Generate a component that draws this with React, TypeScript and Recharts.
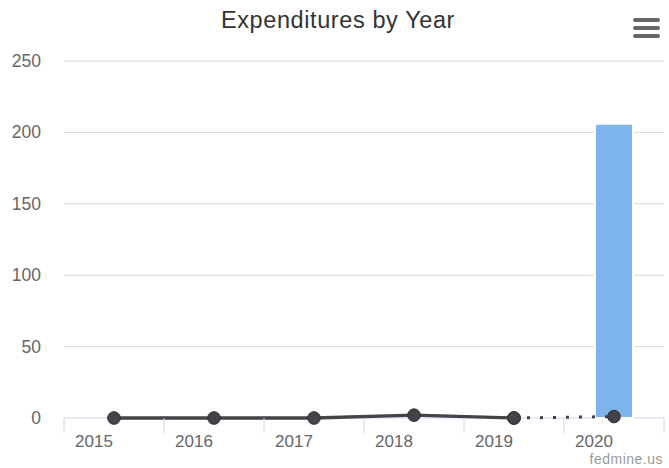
import React from 'react';
import { ComposedChart, Bar, Line, XAxis, YAxis, CartesianGrid } from 'recharts';

const years = ['2015', '2016', '2017', '2018', '2019', '2020'];
const expenditures: (number | null)[] = [null, null, null, null, null, 206];
const actualValues: (number | null)[] = [0, 0, 0, 2, 0, null];
const projectedValues: (number | null)[] = [null, null, null, null, 0, 1];
const yTicks = [0, 50, 100, 150, 200, 250];

const data = years.map((year, i) => ({
  year,
  expenditure: expenditures[i],
  actual: actualValues[i],
  projected: projectedValues[i],
}));

const FONT = '"Liberation Sans", Arial, Helvetica, sans-serif';
const HALF_BAND = 50;
const CHART_H = 468;
const XAXIS_H = 50;
const PLOT_BOTTOM = CHART_H - XAXIS_H;

const XTick = (props: any) => {
  const { x, y, payload, index } = props;
  return (
    <g>
      <line x1={x - HALF_BAND} y1={y} x2={x - HALF_BAND} y2={y + 15} stroke="#ccd6eb" strokeWidth={1} />
      {index === years.length - 1 && (
        <line x1={x + HALF_BAND} y1={y} x2={x + HALF_BAND} y2={y + 15} stroke="#ccd6eb" strokeWidth={1} />
      )}
      <text x={x - 20} y={y + 29} textAnchor="middle" fill="#666666" fontSize={17} fontFamily={FONT}>
        {payload.value}
      </text>
    </g>
  );
};

const YTick = (props: any) => {
  const { x, y, payload } = props;
  return (
    <text x={x - 23} y={y + 6} textAnchor="end" fill="#666666" fontSize={17.5} fontFamily={FONT}>
      {payload.value}
    </text>
  );
};

const GridLine = (props: any) => {
  const { x1, x2, y1, y2 } = props;
  const isBase = Math.abs(y1 - PLOT_BOTTOM) < 1.5;
  return (
    <line
      x1={x1}
      x2={x2}
      y1={y1}
      y2={y2}
      stroke={isBase ? '#ccd6eb' : '#d8d8d8'}
      strokeWidth={1}
    />
  );
};

const Dot = (props: any) => {
  const { cx, cy, value } = props;
  if (value === null || value === undefined || cx == null || cy == null) return <g />;
  return <circle cx={cx} cy={cy} r={6.3} fill="#434348" stroke="#2e2e33" strokeWidth={1} />;
};

export default function App() {
  return (
    <div style={{ position: 'absolute', left: 0, top: 0, width: 669, height: CHART_H, background: '#ffffff' }}>
      <ComposedChart
        width={669}
        height={CHART_H}
        data={data}
        margin={{ top: 61, right: 5, left: 0, bottom: 0 }}
      >
        <CartesianGrid horizontal={(p: any) => <GridLine {...p} />} vertical={false} />
        <XAxis
          dataKey="year"
          height={XAXIS_H}
          axisLine={false}
          tickLine={false}
          tickSize={0}
          tickMargin={0}
          tick={<XTick />}
          interval={0}
        />
        <YAxis
          width={64}
          domain={[0, 250]}
          ticks={yTicks}
          axisLine={false}
          tickLine={false}
          tickSize={0}
          tickMargin={0}
          tick={<YTick />}
          interval={0}
        />
        <Bar
          dataKey="expenditure"
          fill="#7cb5ec"
          stroke="#ffffff"
          strokeWidth={2}
          barSize={38}
          isAnimationActive={false}
        />
        <Line
          dataKey="projected"
          stroke="#434348"
          strokeWidth={3}
          strokeDasharray="3 10"
          dot={<Dot />}
          activeDot={false}
          connectNulls={false}
          isAnimationActive={false}
        />
        <Line
          dataKey="actual"
          stroke="#434348"
          strokeWidth={3.3}
          dot={<Dot />}
          activeDot={false}
          connectNulls={false}
          isAnimationActive={false}
        />
      </ComposedChart>
      <svg
        width={669}
        height={CHART_H}
        style={{ position: 'absolute', left: 0, top: 0, pointerEvents: 'none' }}
      >
        <text
          x={338}
          y={28}
          textAnchor="middle"
          fill="#333333"
          fontSize={23.5}
          letterSpacing={0.6}
          fontFamily={FONT}
        >
          Expenditures by Year
        </text>
        <g stroke="#666666" strokeWidth={4} strokeLinecap="round">
          <line x1={635} y1={20} x2={658} y2={20} />
          <line x1={635} y1={28} x2={658} y2={28} />
          <line x1={635} y1={36} x2={658} y2={36} />
        </g>
        <text
          x={663}
          y={464}
          textAnchor="end"
          fill="#999999"
          fontSize={14}
          letterSpacing={0.5}
          fontFamily={FONT}
        >
          fedmine.us
        </text>
      </svg>
    </div>
  );
}
